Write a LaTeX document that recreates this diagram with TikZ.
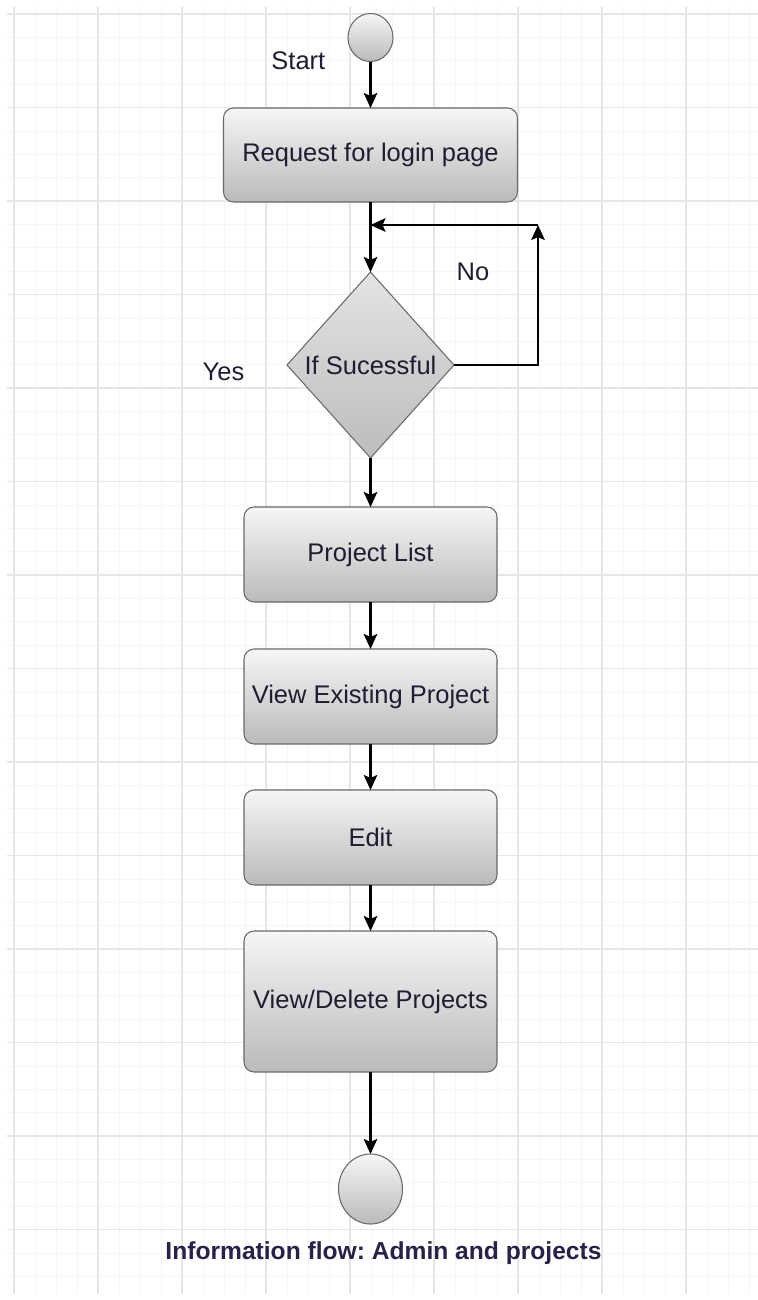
\documentclass[tikz,border=0pt]{standalone}
\usepackage{fontspec}
\setmainfont{Liberation Sans}
\usepackage{xcolor}
\usetikzlibrary{positioning, arrows.meta, shapes.geometric}
\frenchspacing
\definecolor{labeltext}{RGB}{34,28,50}
\definecolor{captiontext}{RGB}{42,32,72}
\definecolor{gridmajor}{RGB}{230,230,230}
\definecolor{gridminor}{RGB}{246,246,246}
\definecolor{shapeedge}{RGB}{105,105,105}
\definecolor{shadetop}{RGB}{246,246,246}
\definecolor{shadebot}{RGB}{186,186,186}
\definecolor{dectop}{RGB}{228,228,228}
\definecolor{decbot}{RGB}{188,188,188}

\begin{document}
\begin{tikzpicture}[node distance=0.94cm, >={Stealth[length=0.3cm, width=0.27cm, inset=0.06cm]},
  every node/.style={font=\fontsize{14.5}{17}\selectfont, text=labeltext},
  actbox/.style={rectangle, rounded corners=0.2cm, draw=shapeedge, line width=0.6pt, top color=shadetop, bottom color=shadebot, minimum width=5.06cm, minimum height=1.9cm, inner sep=2pt, outer sep=0pt},
  decbox/.style={diamond, draw=shapeedge, line width=0.6pt, top color=dectop, bottom color=decbot, minimum width=3.34cm, minimum height=3.72cm, inner sep=0pt, outer sep=0pt},
  endpt/.style={ellipse, draw=shapeedge, line width=0.6pt, top color=shadetop, bottom color=shadebot, inner sep=0pt, outer sep=0pt},
  flow/.style={->, line width=1.3pt}]
  \useasboundingbox (0,0) rectangle (15.16,-26);
  \begin{scope}
    \clip (0.14,-0.14) rectangle (15.16,-25.86);
    \foreach \i in {0,...,35} \draw[gridminor, line width=0.3pt] (0.28+0.42*\i,0) -- ++(0,-26);
    \foreach \i in {0,...,55} \draw[gridminor, line width=0.3pt] (0,-0.28-0.4675*\i) -- ++(15.16,0);
    \foreach \i in {0,...,8} \draw[gridmajor, line width=0.6pt] (0.28+1.68*\i,0) -- ++(0,-26);
    \foreach \i in {0,...,13} \draw[gridmajor, line width=0.6pt] (0,-0.28-1.87*\i) -- ++(15.16,0);
  \end{scope}

  \node (start) [endpt, minimum width=0.9cm, minimum height=0.96cm] at (7.41,-0.75) {};
  \node (startlbl) [left=0.33cm of start, yshift=-0.46cm] {Start};
  \node (req) [actbox, minimum width=5.88cm, minimum height=1.88cm, below=0.93cm of start] {Request for login page};
  \node (dec) [decbox, below=1.4cm of req] {If Sucessful};
  \node (yeslbl) [left=0.73cm of dec.west, yshift=-0.14cm] {Yes};
  \node (nolbl) [right=1.6cm of dec.north] {No};
  \node (plist) [actbox, below=0.98cm of dec] {Project List};
  \node (view) [actbox, below=of plist] {View Existing Project};
  \node (edit) [actbox, below=0.92cm of view] {Edit};
  \node (vdel) [actbox, minimum height=2.82cm, below=0.92cm of edit] {View/Delete Projects};
  \node (finish) [endpt, minimum width=1.28cm, minimum height=1.4cm, below=1.64cm of vdel] {};
  \node (caption) [below=0.22cm of finish, xshift=0.26cm, font=\bfseries\fontsize{14}{17}\selectfont, text=captiontext] {Information flow: Admin and projects};

  \coordinate[below=0.46cm of req.south] (merge);
  \coordinate[right=1.68cm of dec.east] (loopr);
  \coordinate (loopc) at (merge -| loopr);

  \draw[flow] (start) -- (req);
  \draw[flow] (req) -- (dec);
  \draw[flow] (dec.east) -| (loopc);
  \draw[flow] (loopc) -- (merge);
  \draw[flow] (dec) -- (plist);
  \draw[flow] (plist) -- (view);
  \draw[flow] (view) -- (edit);
  \draw[flow] (edit) -- (vdel);
  \draw[flow] (vdel) -- (finish);
\end{tikzpicture}
\end{document}
